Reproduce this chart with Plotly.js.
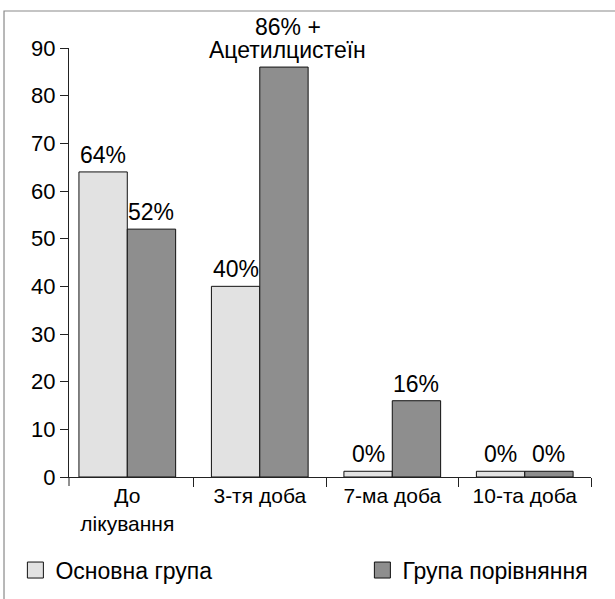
<!DOCTYPE html>
<html>
<head>
<meta charset="utf-8">
<script src="https://cdn.plot.ly/plotly-3.0.1.min.js"></script>
<style>html,body{margin:0;padding:0;background:#fff;}#chart{width:615px;height:599px;}</style>
</head>
<body>
<div id="chart"></div>
<script>
// ---- data ----
var categories = ["До<br>лікування", "3-тя доба", "7-ма доба", "10-та доба"];
var seriesNames = ["Основна група", "Група порівняння"];
// bar heights as drawn (the 0% bars are drawn as thin stubs)
var mainValues = [64, 40, 1.2, 1.2];
var compValues = [52, 86, 16, 1.2];
var mainLabels = ["64%", "40%", "0%", "0%"];
var compLabels = ["52%", "86% +<br>Ацетилцистеїн", "16%", "0%"];
var yTicks = [0, 10, 20, 30, 40, 50, 60, 70, 80, 90];

var FONT = "Liberation Sans, Arial, Helvetica, sans-serif";
var lightColor = "#e2e2e2";
var darkColor = "#8e8e8e";
var edge = {color: "#111", width: 1};

var traces = [
  {type: "bar", name: seriesNames[0], x: categories, y: mainValues, showlegend: false,
   marker: {color: lightColor, line: edge}, hoverinfo: "none"},
  {type: "bar", name: seriesNames[1], x: categories, y: compValues, showlegend: false,
   marker: {color: darkColor, line: edge}, hoverinfo: "none"},
  // legend entries (square swatches)
  {type: "scatter", mode: "markers", name: seriesNames[0], x: [null], y: [null],
   legendwidth: 302,
   marker: {symbol: "square", size: 16, color: lightColor, line: edge}, hoverinfo: "none"},
  {type: "scatter", mode: "markers", name: seriesNames[1], x: [null], y: [null],
   marker: {symbol: "square", size: 16, color: darkColor, line: edge}, hoverinfo: "none"}
];

// value labels above bars; multi-line labels are stacked with a tight line step
var LINE_STEP = 23;
var annotations = [];
function addLabels(vals, labels, shift) {
  for (var i = 0; i < vals.length; i++) {
    var lines = labels[i].split("<br>").reverse();
    for (var k = 0; k < lines.length; k++) {
      annotations.push({
        x: categories[i], y: vals[i], xref: "x", yref: "y",
        text: lines[k], showarrow: false, xanchor: "center", yanchor: "bottom",
        xshift: shift + (lines.length > 1 ? 4 : 0), yshift: 3 + k * LINE_STEP,
        borderpad: 0,
        font: {family: FONT, size: 23, color: "#000"}
      });
    }
  }
}
addLabels(mainValues, mainLabels, -24);
addLabels(compValues, compLabels, 24);

var layout = {
  width: 615, height: 599,
  margin: {l: 69, r: 24, t: 48, b: 122, autoexpand: false},
  paper_bgcolor: "#fff", plot_bgcolor: "#fff",
  font: {family: FONT, size: 21, color: "#000"},
  barmode: "group", bargap: 0.27, bargroupgap: 0,
  showlegend: true,
  legend: {orientation: "h", x: -0.1027, y: -0.217, xanchor: "left", yanchor: "middle",
           font: {family: FONT, size: 23, color: "#000"}, itemsizing: "trace",
           bgcolor: "rgba(0,0,0,0)", borderwidth: 0},
  xaxis: {type: "category", range: [-0.44, 3.5], tickson: "boundaries",
          showline: true, linecolor: "#222", linewidth: 1,
          ticks: "outside", ticklen: 9, tickcolor: "#222", tickwidth: 1,
          showgrid: false, zeroline: false, fixedrange: true, automargin: false,
          tickfont: {family: FONT, size: 21, color: "#000"}},
  yaxis: {range: [0, 90], tickvals: yTicks, ticktext: yTicks.map(String),
          showline: true, linecolor: "#222", linewidth: 1,
          ticks: "outside", ticklen: 8, tickcolor: "#222", tickwidth: 1,
          showgrid: false, zeroline: false, fixedrange: true, automargin: false,
          tickfont: {family: FONT, size: 22, color: "#000"}},
  annotations: annotations,
  shapes: [
    // outer frame (top and left visible)
    {type: "rect", xref: "paper", yref: "paper", x0: -0.1245, x1: 1.2, y0: -0.4, y1: 1.0862,
     line: {color: "#8a8a8a", width: 1.2}, fillcolor: "rgba(0,0,0,0)", layer: "below"},
    // y-axis line continuing below zero as the first tick
    {type: "line", xref: "paper", yref: "paper", x0: 0, x1: 0, y0: 0, y1: -0.021,
     line: {color: "#222", width: 1}}
  ]
};

Plotly.newPlot("chart", traces, layout, {staticPlot: true, displayModeBar: false});
</script>
</body>
</html>
